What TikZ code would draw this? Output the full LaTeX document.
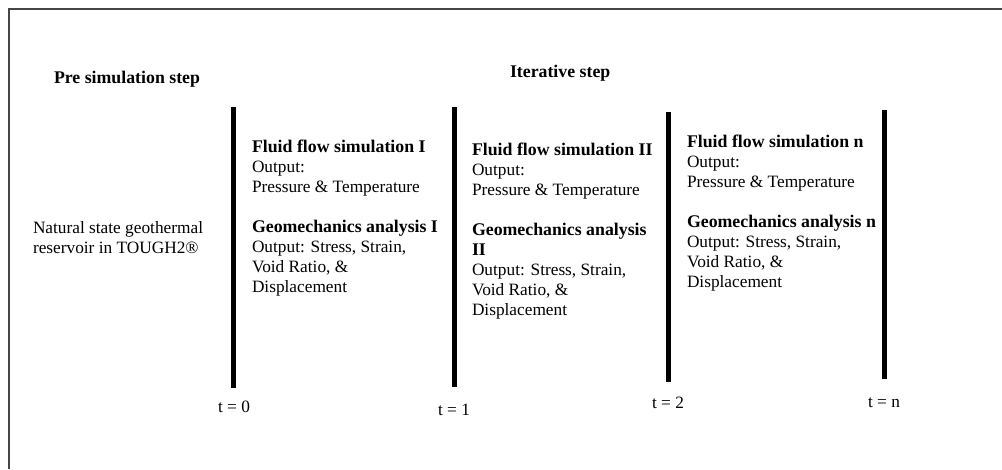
\documentclass[tikz,border=0pt]{standalone}
\usepackage{fontspec}
\setmainfont{Liberation Serif}
\newcommand\bodyfs{\fontsize{17.3}{20}\selectfont}
\newcommand\hd[1]{{\fontsize{17.8}{20}\selectfont\bfseries #1}}
\begin{document}
\begin{tikzpicture}[x=1pt,y=-1pt,
  txt/.style={inner sep=0pt,outer sep=0pt,font=\bodyfs,align=left},
  bar/.style={line width=5pt,black},
  frameline/.style={line width=2pt,draw={rgb,255:red,70;green,70;blue,70}}]
\useasboundingbox (0,0) rectangle (1002,469);
% frame (top and left edges)
\coordinate (ftr) at (1002,8.5);
\coordinate (ftl) at (8.5,8.5);
\coordinate (fbl) at (8.5,469);
\draw[frameline] (ftr) -- (ftl) -- (fbl);
% titles
\node[txt,anchor=base west] (pre) at (54,83) {\hd{Pre simulation step}};
\node[txt,anchor=base west] (iter) at (510,77) {\hd{Iterative step}};
% left text
\node[txt,anchor=north west] (nat) at (33,221) {Natural state geothermal\\reservoir in TOUGH2®};
% time bars
\coordinate (b0t) at (233.5,107); \coordinate (b0b) at (233.5,388);
\coordinate (b1t) at (454,107);   \coordinate (b1b) at (454,387);
\coordinate (b2t) at (668.5,112); \coordinate (b2b) at (668.5,382);
\coordinate (b3t) at (884.5,110); \coordinate (b3b) at (884.5,379);
\draw[bar] (b0t) -- (b0b);
\draw[bar] (b1t) -- (b1b);
\draw[bar] (b2t) -- (b2b);
\draw[bar] (b3t) -- (b3b);
% time labels
\node[txt] (t0) at (234,407) {t = 0};
\node[txt] (t1) at (454,410) {t = 1};
\node[txt] (t2) at (668,403) {t = 2};
\node[txt] (tn) at (884,403) {t = n};
% columns
\node[txt,anchor=north west] (c1) at (252,140) {\hd{Fluid flow simulation I}\\Output:\\Pressure \& Temperature\\[20pt]\hd{Geomechanics analysis I}\\Output: Stress, Strain,\\Void Ratio, \&\\Displacement};
\node[txt,anchor=north west] (c2) at (472,143) {\hd{Fluid flow simulation II}\\Output:\\Pressure \& Temperature\\[20pt]\hd{Geomechanics analysis}\\\hd{II}\\Output: Stress, Strain,\\Void Ratio, \&\\Displacement};
\node[txt,anchor=north west] (c3) at (687,135) {\hd{Fluid flow simulation n}\\Output:\\Pressure \& Temperature\\[20pt]\hd{Geomechanics analysis n}\\Output: Stress, Strain,\\Void Ratio, \&\\Displacement};
\end{tikzpicture}
\end{document}
